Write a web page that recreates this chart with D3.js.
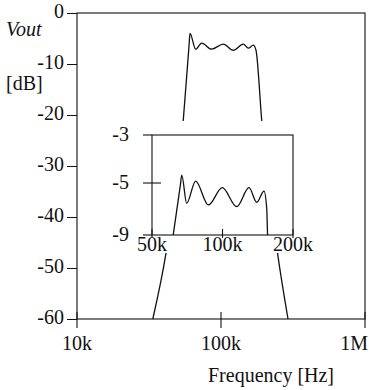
<!DOCTYPE html>
<html>
<head>
<meta charset="utf-8">
<script src="https://cdn.jsdelivr.net/npm/d3@7"></script>
<style>
  html, body { margin: 0; padding: 0; background: #fff; }
  svg { display: block; }
  text { font-family: "Liberation Serif", "Times New Roman", serif; font-size: 20px; fill: #111; }
</style>
</head>
<body>
<div id="chart"></div>
<script>
// main response: frequency (Hz) vs output level (dB)
const mainFreq = [33600, 41500, 54700, 60000, 60900, 66700, 73400, 86100, 103700, 121700, 142900, 154800, 167600, 175000, 191700, 247000, 292000];
const mainDb   = [-60, -47.1, -21.0, -6.3, -4.0, -7.1, -5.9, -7.1, -6.1, -7.3, -6.1, -6.9, -6.3, -7.3, -21.0, -47.1, -60];

// passband detail shown in the inset
const insetFreq = [61600, 66100, 67000, 70300, 76800, 87000, 99800, 115000, 129800, 140000, 150400, 154400, 155700];
const insetDb   = [-9, -5.15, -4.67, -6.56, -4.92, -6.69, -5.36, -6.82, -5.36, -6.48, -5.62, -6.92, -9];

const mainXTicks = [1e4, 1e5, 1e6];
const mainXLabels = ["10k", "100k", "1M"];
const mainYTicks = [0, -10, -20, -30, -40, -50, -60];

const insetXTicks = [5e4, 1e5, 2e5];
const insetXLabels = ["50k", "100k", "200k"];
const insetYTicks = [-3, -5, -9];

const width = 369, height = 390;

const svg = d3.select("#chart").append("svg")
    .attr("width", width)
    .attr("height", height);

// main scales
const x = d3.scaleLog().domain([1e4, 1e6]).range([77, 365]);
const y = d3.scaleLinear().domain([0, -60]).range([13, 319]);

// inset scales (the printed inset axis is not evenly spaced, so use a piecewise scale)
const ix = d3.scaleLog().domain([5e4, 2e5]).range([152, 293]);
const iy = d3.scaleLinear().domain([-3, -5, -9]).range([135, 183, 235]);

const ink = "#111";
const fmt = d => String(d); // plain hyphen, as printed

// frame
svg.append("rect")
    .attr("x", x.range()[0]).attr("y", y.range()[0])
    .attr("width", x.range()[1] - x.range()[0])
    .attr("height", y.range()[1] - y.range()[0])
    .attr("fill", "none").attr("stroke", ink).attr("stroke-width", 1.1);

// main curve
const mainLine = d3.line()
    .x(d => x(d[0]))
    .y(d => y(d[1]))
    .curve(d3.curveMonotoneX);

svg.append("path")
    .datum(d3.zip(mainFreq, mainDb))
    .attr("d", mainLine)
    .attr("fill", "none").attr("stroke", ink).attr("stroke-width", 1.3);

// y axis
const yAxis = svg.append("g")
    .attr("transform", `translate(${x.range()[0]},0)`)
    .call(d3.axisLeft(y).tickValues(mainYTicks).tickSize(10).tickPadding(3).tickFormat(fmt));
yAxis.select(".domain").remove();
yAxis.selectAll("line").attr("stroke", ink);
yAxis.selectAll("text").attr("dy", "0.22em");
yAxis.attr("font-size", null).attr("font-family", null);

// x ticks crossing the bottom axis
svg.append("g").selectAll("line")
    .data(mainXTicks)
    .join("line")
    .attr("x1", d => x(d)).attr("x2", d => x(d))
    .attr("y1", y(-60) - 7).attr("y2", y(-60) + 9)
    .attr("stroke", ink).attr("stroke-width", 1.1);

svg.append("g").selectAll("text")
    .data(mainXTicks)
    .join("text")
    .attr("x", d => x(d))
    .attr("y", 350)
    .attr("text-anchor", "middle")
    .text((d, i) => mainXLabels[i])
    .each(function () {
        // keep labels inside the picture
        const w = this.getComputedTextLength();
        const cx = +this.getAttribute("x");
        if (cx + w / 2 > width - 1) this.setAttribute("x", width - 1 - w / 2);
    });

svg.append("text")
    .attr("x", 271).attr("y", 382)
    .attr("text-anchor", "middle")
    .text("Frequency [Hz]");

svg.append("text")
    .attr("x", 6).attr("y", 36)
    .attr("font-style", "italic")
    .text("Vout");

svg.append("text")
    .attr("x", 6).attr("y", 90)
    .text("[dB]");

// inset: white backing hides the main curve behind it
const inset = svg.append("g");
inset.append("rect")
    .attr("x", 95).attr("y", 121)
    .attr("width", 225).attr("height", 132)
    .attr("fill", "#fff");

inset.append("rect")
    .attr("x", ix.range()[0]).attr("y", iy.range()[0])
    .attr("width", ix.range()[1] - ix.range()[0])
    .attr("height", iy.range()[2] - iy.range()[0])
    .attr("fill", "none").attr("stroke", ink).attr("stroke-width", 1.1);

const insetLine = d3.line()
    .x(d => ix(d[0]))
    .y(d => iy(d[1]))
    .curve(d3.curveMonotoneX);

inset.append("path")
    .datum(d3.zip(insetFreq, insetDb))
    .attr("d", insetLine)
    .attr("fill", "none").attr("stroke", ink).attr("stroke-width", 1.3);

// inset y ticks (cross the left edge)
inset.append("g").selectAll("line")
    .data(insetYTicks)
    .join("line")
    .attr("x1", ix.range()[0] - 9).attr("x2", d => d === -5 ? ix.range()[0] + 9 : ix.range()[0])
    .attr("y1", d => iy(d)).attr("y2", d => iy(d))
    .attr("stroke", ink).attr("stroke-width", 1.1);

inset.append("g").selectAll("text")
    .data(insetYTicks)
    .join("text")
    .attr("x", 129)
    .attr("y", d => iy(d))
    .attr("dy", "0.32em")
    .attr("text-anchor", "end")
    .text(fmt);

// inset x ticks
inset.append("g").selectAll("line")
    .data(insetXTicks)
    .join("line")
    .attr("x1", d => ix(d)).attr("x2", d => ix(d))
    .attr("y1", iy(-9) - 6).attr("y2", iy(-9) + 3)
    .attr("stroke", ink).attr("stroke-width", 1.1);

inset.append("g").selectAll("text")
    .data(insetXTicks)
    .join("text")
    .attr("x", d => ix(d))
    .attr("y", 251)
    .attr("text-anchor", "middle")
    .text((d, i) => insetXLabels[i]);
</script>
</body>
</html>
